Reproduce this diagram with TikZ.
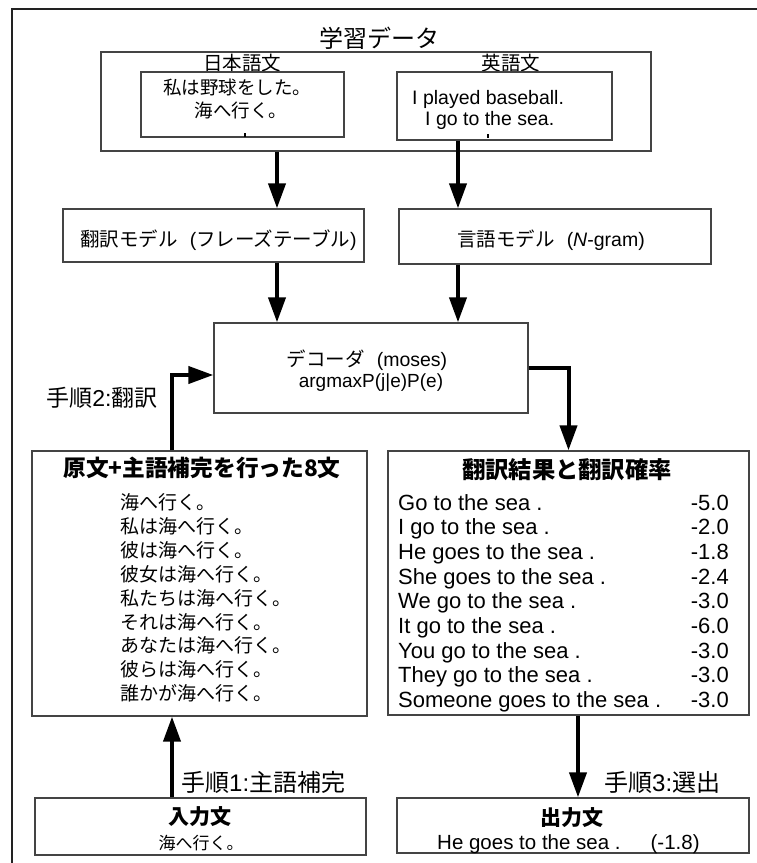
\documentclass[tikz,border=0pt]{standalone}
\usepackage{fontspec}
\setmainfont{Liberation Sans}
\newfontfamily\jp{Noto Sans CJK JP}
\usetikzlibrary{arrows.meta}
\newcommand\setfs[1]{\fontsize{#1}{#1}\selectfont}
\definecolor{boxcol}{HTML}{444444}
\definecolor{framecol}{HTML}{222222}
\begin{document}
\begin{tikzpicture}[x=1pt,y=-1pt,
  box/.style={draw=boxcol, line width=1.3pt, inner sep=0pt, fill=white},
  txt/.style={inner sep=0pt, text=black},
  arr/.style={line width=4pt, -{Triangle[length=25pt,width=17pt]}},
  tick/.style={line width=2pt},
]
\fill[white] (0,0) rectangle (757,863);
\useasboundingbox (0,0) rectangle (757,863);
% outer frame (partly outside the picture)
\draw[framecol, line width=2pt] (12,863) -- (12,9) -- (757,9);

% column coordinates for connectors
\coordinate (colA) at (277,0);
\coordinate (colB) at (458,0);
\coordinate (colC) at (172,0);
\coordinate (colE) at (578,0);

% training data
\node[txt] (tdtitle) at (379,38) {\jp\setfs{24}学習データ};
\node[box, minimum width=550pt, minimum height=99pt] (train) at (376,101.5) {};
\node[txt] (jptitle) at (242,63) {\jp\setfs{19.5}日本語文};
\node[txt] (entitle) at (511,63) {\jp\setfs{19.5}英語文};
\node[box, minimum width=203pt, minimum height=65pt] (jpbox) at (242.5,104.5) {};
\node[box, minimum width=215pt, minimum height=68pt] (enbox) at (504.5,106) {};
\node[txt] (jp1) at (237,87) {\jp\setfs{18.5}私は野球をした。};
\node[txt] (jp2) at (241,110) {\jp\setfs{18.5}海へ行く。};
\node[txt, anchor=base west] (en1) at (412,104) {\setfs{19.5}I played baseball.};
\node[txt, anchor=base west] (en2) at (425,125) {\setfs{19.5}I go to the sea.};
\draw[tick] (245,133) -- (245,137);
\draw[tick] (488,134) -- (488,138);

% models
\node[box, minimum width=301pt, minimum height=53pt] (tm) at (213.5,235.5) {};
\node[txt] (tmtext) at (218.5,240) {\setfs{19.5}{\jp 翻訳モデル}\hspace{12pt}({\jp フレーズテーブル})};
\node[box, minimum width=312pt, minimum height=55pt] (lm) at (555,236.5) {};
\node[txt] (lmtext) at (551,240) {\setfs{19.5}{\jp 言語モデル}\hspace{12pt}(\textit{N}-gram)};

% decoder
\node[box, minimum width=314pt, minimum height=90pt] (dec) at (371,368) {};
\node[txt] (dec1) at (367,360) {\setfs{19.5}{\jp デコーダ}\hspace{12pt}(moses)};
\node[txt] (dec2) at (371,383) {\setfs{19}argmaxP(j|e)P(e)};

% original + completed sentences
\node[box, minimum width=335pt, minimum height=265pt] (orig) at (199.5,583.5) {};
\node[txt] (origtitle) at (202,468) {\jp\bfseries\setfs{22.7}原文+主語補完を行った8文};
\foreach \s [count=\i from 0] in {海へ行く。,私は海へ行く。,彼は海へ行く。,彼女は海へ行く。,私たちは海へ行く。,それは海へ行く。,あなたは海へ行く。,彼らは海へ行く。,誰かが海へ行く。}{
  \node[txt, anchor=base west] (jl\i) at (120,{509.5+23.9*\i}) {\jp\setfs{19}\s};
}

% translation results
\node[box, minimum width=361pt, minimum height=264pt] (res) at (568.5,583) {};
\node[txt] (restitle) at (567,470) {\jp\bfseries\setfs{23.3}翻訳結果と翻訳確率};
\foreach \s/\p [count=\i from 0] in {Go to the sea ./-5.0, I go to the sea ./-2.0, He goes to the sea ./-1.8, She goes to the sea ./-2.4, We go to the sea ./-3.0, It go to the sea ./-6.0, You go to the sea ./-3.0, They go to the sea ./-3.0, Someone goes to the sea ./-3.0}{
  \node[txt, anchor=base west] (el\i) at (398,{510+24.7*\i}) {\setfs{22}\s};
  \node[txt, anchor=base east] (ep\i) at (729,{510+24.7*\i}) {\setfs{22}\p};
}

% input / output
\node[box, minimum width=331pt, minimum height=57pt] (inp) at (200.5,826.5) {};
\node[txt] (inptitle) at (200,817) {\jp\bfseries\setfs{21}入力文};
\node[txt] (inptext) at (201,843) {\jp\setfs{17}海へ行く。};
\node[box, minimum width=352pt, minimum height=55pt] (out) at (573,825.5) {};
\node[txt] (outtitle) at (572,818) {\jp\bfseries\setfs{21}出力文};
\node[txt, anchor=base west] (outtext) at (437,849) {\setfs{20.5}He goes to the sea .\hspace{30pt}(-1.8)};

% step labels
\node[txt] (step2) at (102,398) {\setfs{23}{\jp 手順}2:{\jp 翻訳}};
\node[txt, anchor=west] (step1) at (181,782) {\setfs{24}{\jp 手順}1:{\jp 主語補完}};
\node[txt, anchor=west] (step3) at (604,782) {\setfs{24}{\jp 手順}3:{\jp 選出}};

% connectors
\draw[arr] (train.south -| colA) -- (tm.north -| colA);
\draw[arr] (enbox.south -| colB) -- (lm.north -| colB);
\draw[arr] (tm.south -| colA) -- (dec.north -| colA);
\draw[arr] (lm.south -| colB) -- (dec.north -| colB);
\draw[arr] (orig.north -| colC) |- ([yshift=-7pt]dec.west);
\draw[arr] (dec.east) -| (res.north);
\draw[arr] (res.south -| colE) -- (out.north -| colE);
\draw[arr] (inp.north -| colC) -- (orig.south -| colC);
\end{tikzpicture}
\end{document}
